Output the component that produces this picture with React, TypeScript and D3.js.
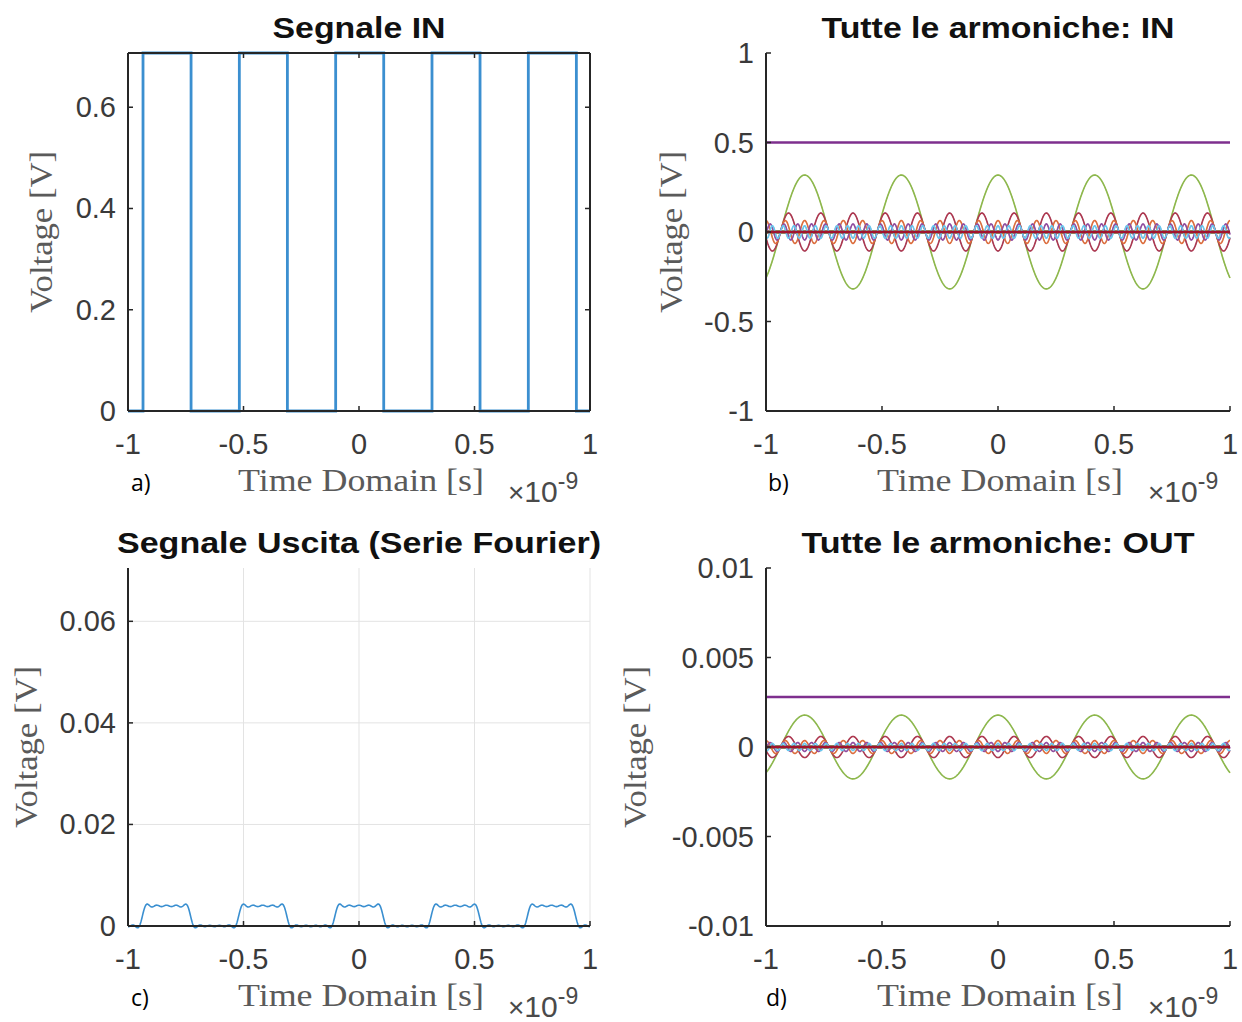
import React from 'react'
import * as d3 from 'd3'

// valori (tempo in ns, tensione in V)
const xTicks = [-1, -0.5, 0, 0.5, 1]
const yTicksIn = [0, 0.2, 0.4, 0.6]
const yTicksHarmIn = [-1, -0.5, 0, 0.5, 1]
const yTicksOut = [0, 0.02, 0.04, 0.06]
const yTicksHarmOut = [-0.01, -0.005, 0, 0.005, 0.01]

const squareHigh = 0.7071
const risingEdges = [-0.935, -0.518, -0.101, 0.316, 0.733]
const fallingEdges = [-0.727, -0.31, 0.107, 0.524, 0.941]

const period = 0.4167
// coefficienti c_k per |k| = 0..10
const coeffIn = [0.5, 0.318, 0, -0.106, 0, 0.064, 0, -0.045, 0, 0.035, 0]
const coeffOut = [0.0028, 0.00178, 0, -0.00059, 0, 0.00036, 0, -0.00025, 0, 0.0002, 0]
const harmonicIndex = [-10, -9, -8, -7, -6, -5, -4, -3, -2, -1, 0, 1, 2, 3, 4, 5, 6, 7, 8, 9, 10]
const outGain = 0.707

const matlabColors = ['#0072BD', '#D95319', '#EDB120', '#7E2F8E', '#77AC30', '#4DBEEE', '#A2142F']

const axisColor = '#262626'
const labelColor = '#5a5a5a'
const sans = '"Liberation Sans", Arial, sans-serif'
const serif = '"Liberation Serif", "Times New Roman", serif'

const timeSamples = d3.range(-1, 1.0001, 0.002)

function harmonicSeries(coeff, k) {
  const c = coeff[Math.abs(k)]
  return timeSamples.map(t => [t, c * Math.cos((2 * Math.PI * k * t) / period)])
}

function fourierSum(coeff, gain) {
  return timeSamples.map(t => {
    let v = 0
    harmonicIndex.forEach(k => {
      v += coeff[Math.abs(k)] * Math.cos((2 * Math.PI * k * t) / period)
    })
    return [t, v * gain]
  })
}

function squarePoints() {
  const pts = [[-1, 0]]
  risingEdges.forEach((r, i) => {
    pts.push([r, 0], [r, squareHigh], [fallingEdges[i], squareHigh], [fallingEdges[i], 0])
  })
  pts.push([1, 0])
  return pts
}

// linee sottili un po' schiarite come nell'immagine
const harmColor = (i, flat) => {
  const c = matlabColors[i % 7]
  return flat ? c : d3.interpolateRgb(c, '#ffffff')(0.15)
}

function Panel({box, yDomain, yTicks, title, titleLen, tag, tagX, boxOn, grid, ylabelX, children}) {
  const {x0, x1, y0, y1} = box
  const x = d3.scaleLinear().domain([-1, 1]).range([x0, x1])
  const y = d3.scaleLinear().domain(yDomain).range([y1, y0])
  const cx = (x0 + x1) / 2
  const cy = (y0 + y1) / 2
  const tl = 5

  return (
    <g>
      {grid && (
        <g stroke="#e3e3e3" strokeWidth={1}>
          {xTicks.filter(t => t !== -1).map(t => (
            <line key={'gx' + t} x1={x(t)} x2={x(t)} y1={y0} y2={y1} />
          ))}
          {yTicks.filter(t => t !== yDomain[0]).map(t => (
            <line key={'gy' + t} x1={x0} x2={x1} y1={y(t)} y2={y(t)} />
          ))}
        </g>
      )}

      {children(x, y)}

      <g stroke={axisColor} strokeWidth={2} fill="none">
        <line x1={x0} x2={x0} y1={y0} y2={y1} />
        <line x1={x0} x2={x1} y1={y1} y2={y1} />
        {boxOn && <line x1={x0} x2={x1} y1={y0} y2={y0} />}
        {boxOn && <line x1={x1} x2={x1} y1={y0} y2={y1} />}
        {xTicks.map(t => (
          <line key={'tx' + t} x1={x(t)} x2={x(t)} y1={y1} y2={y1 - tl} strokeWidth={1.5} />
        ))}
        {yTicks.map(t => (
          <line key={'ty' + t} x1={x0} x2={x0 + tl} y1={y(t)} y2={y(t)} strokeWidth={1.5} />
        ))}
        {boxOn && xTicks.map(t => (
          <line key={'txt' + t} x1={x(t)} x2={x(t)} y1={y0} y2={y0 + tl} strokeWidth={1.5} />
        ))}
        {boxOn && yTicks.map(t => (
          <line key={'tyr' + t} x1={x1} x2={x1 - tl} y1={y(t)} y2={y(t)} strokeWidth={1.5} />
        ))}
      </g>

      <g fill="#3a3a3a" fontFamily={sans} fontSize={29}>
        {yTicks.map(t => (
          <text key={'ly' + t} x={x0 - 12} y={y(t)} textAnchor="end" dominantBaseline="central">
            {String(t)}
          </text>
        ))}
        {xTicks.map(t => (
          <text key={'lx' + t} x={x(t)} y={y1 + 33} textAnchor="middle" dominantBaseline="central">
            {String(t)}
          </text>
        ))}
      </g>

      <text x={cx} y={y0 - 15} textAnchor="middle" fontFamily={sans} fontWeight="bold"
        fontSize={30} fill="#111" textLength={titleLen} lengthAdjust="spacingAndGlyphs">
        {title}
      </text>

      <text x={cx + 2} y={y1 + 80} textAnchor="middle" fontFamily={serif} fontSize={31}
        fill={labelColor} textLength={246} lengthAdjust="spacingAndGlyphs">
        Time Domain [s]
      </text>

      <text transform={`translate(${ylabelX},${cy}) rotate(-90)`} textAnchor="middle"
        fontFamily={serif} fontSize={31} fill={labelColor} textLength={162}
        lengthAdjust="spacingAndGlyphs">
        Voltage [V]
      </text>

      <text x={x1 - 82} y={y1 + 91} fontFamily={sans} fill="#4a4a4a">
        <tspan fontSize={28}>×</tspan>
        <tspan fontSize={30}>10</tspan>
        <tspan fontSize={23} dy={-13}>-9</tspan>
      </text>

      <text x={tagX} y={y1 + 80} fontFamily={'"Open Sans", "Noto Sans", sans-serif'} fontSize={23} fill="#000">
        {tag}
      </text>
    </g>
  )
}

export default function App() {
  const line = (x, y) => d3.line().x(d => x(d[0])).y(d => y(d[1]))

  // le armoniche k<0 coincidono con quelle k>0 e restano sotto
  const harmonics = coeff => (x, y) => harmonicIndex.map((k, i) => {
    const flat = k === 0 || coeff[Math.abs(k)] === 0
    const w = flat ? 2.5 : k < 0 ? 0.8 : 1.6
    return (
      <path key={k} d={line(x, y)(harmonicSeries(coeff, k))} fill="none"
        stroke={harmColor(i, flat)} strokeWidth={w} />
    )
  })

  return (
    <svg width={1242} height={1022} style={{position: 'absolute', left: 0, top: 0, background: '#fff'}}>
      <Panel box={{x0: 128, x1: 590, y0: 53, y1: 411}} yDomain={[0, squareHigh]} yTicks={yTicksIn}
        title="Segnale IN" titleLen={173} tag="a)" tagX={131} boxOn grid={false} ylabelX={52}>
        {(x, y) => (
          <path d={line(x, y)(squarePoints())} fill="none" stroke="#3b8fd0" strokeWidth={2.8} />
        )}
      </Panel>

      <Panel box={{x0: 766, x1: 1230, y0: 53, y1: 411}} yDomain={[-1, 1]} yTicks={yTicksHarmIn}
        title="Tutte le armoniche: IN" titleLen={353} tag="b)" tagX={768} boxOn={false} grid={false} ylabelX={682}>
        {harmonics(coeffIn)}
      </Panel>

      <Panel box={{x0: 128, x1: 590, y0: 568, y1: 926}} yDomain={[0, 0.0705]} yTicks={yTicksOut}
        title="Segnale Uscita (Serie Fourier)" titleLen={484} tag="c)" tagX={131} boxOn={false} grid ylabelX={37}>
        {(x, y) => (
          <path d={line(x, y)(fourierSum(coeffOut, outGain))} fill="none" stroke="#3a8fd0" strokeWidth={1.6} />
        )}
      </Panel>

      <Panel box={{x0: 766, x1: 1230, y0: 568, y1: 926}} yDomain={[-0.01, 0.01]} yTicks={yTicksHarmOut}
        title="Tutte le armoniche: OUT" titleLen={393} tag="d)" tagX={766} boxOn={false} grid={false} ylabelX={646}>
        {harmonics(coeffOut)}
      </Panel>
    </svg>
  )
}
